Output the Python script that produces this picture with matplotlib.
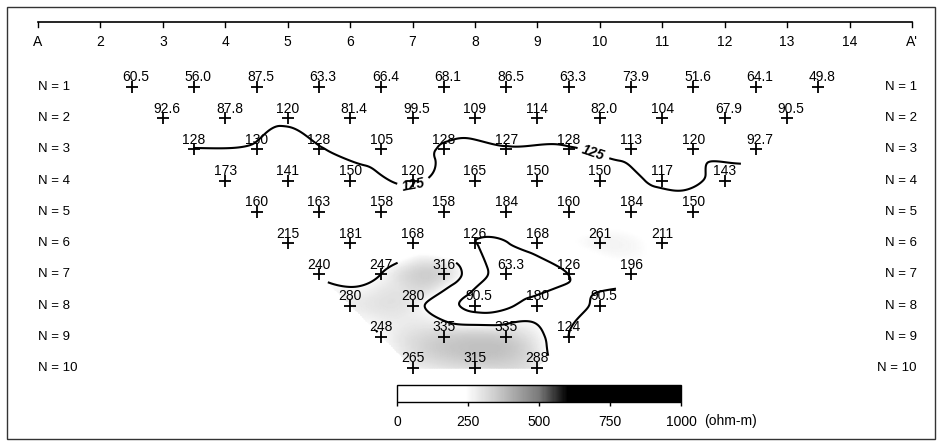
import numpy as np
import matplotlib
matplotlib.use('Agg')
import matplotlib.pyplot as plt
import matplotlib.tri as mtri
from matplotlib.colors import LinearSegmentedColormap
from matplotlib.patches import Rectangle

plt.rcParams['font.family'] = ['Liberation Sans', 'DejaVu Sans']

# apparent resistivity (ohm-m), one list per dipole separation N
n1 = [60.5, 56.0, 87.5, 63.3, 66.4, 68.1, 86.5, 63.3, 73.9, 51.6, 64.1, 49.8]
n2 = [92.6, 87.8, 120, 81.4, 99.5, 109, 114, 82.0, 104, 67.9, 90.5]
n3 = [128, 130, 128, 105, 128, 127, 128, 113, 120, 92.7]
n4 = [173, 141, 150, 120, 165, 150, 150, 117, 143]
n5 = [160, 163, 158, 158, 184, 160, 184, 150]
n6 = [215, 181, 168, 126, 168, 261, 211]
n7 = [240, 247, 316, 63.3, 126, 196]
n8 = [280, 280, 90.5, 180, 90.5]
n9 = [248, 335, 335, 124]
n10 = [265, 315, 288]
rows = [n1, n2, n3, n4, n5, n6, n7, n8, n9, n10]

station_labels = ['A', '2', '3', '4', '5', '6', '7', '8', '9', '10',
                  '11', '12', '13', '14', "A'"]
cbar_ticks = [0, 250, 500, 750, 1000]
low_level = 125
high_level = 245

# plot points of the dipole-dipole pseudosection
xs, ns, vals = [], [], []
for k, row in enumerate(rows):
    n = k + 1
    for i, v in enumerate(row):
        xs.append(2.0 + n / 2.0 + i)
        ns.append(n)
        vals.append(v)
xs = np.array(xs)
ns = np.array(ns, dtype=float)
vals = np.array(vals)

fig = plt.figure(figsize=(9.39, 4.45), dpi=100)
ax = fig.add_axes([0, 0, 1, 1])
ax.set_xlim(0.3913, 15.4325)
ax.set_ylim(12.466, -1.787)
ax.axis('off')

cmap = LinearSegmentedColormap.from_list(
    'resist', [(0, 'white'), (0.24, 'white'), (0.34, '#d0d0d0'),
               (0.5, '#7a7a7a'), (0.6, 'black'), (1, 'black')])

tri = mtri.Triangulation(xs, ns)
interp = mtri.CubicTriInterpolator(tri, vals, kind='min_E')
gx, gy = np.meshgrid(np.linspace(2.5, 13.5, 400), np.linspace(1, 10, 300))
gz = interp(gx, gy)

ax.pcolormesh(gx, gy, gz, cmap=cmap, vmin=0, vmax=1000, shading='gouraud')

cs = ax.contour(gx, gy, gz, levels=[low_level], colors='black', linewidths=1.5)
lbls = ax.clabel(cs, fmt='%d', inline=True, fontsize=10,
                 manual=[(7.0, 3.9), (9.9, 3.1)])
for t in lbls:
    t.set_fontweight('bold')
    t.set_fontstyle('italic')

# high-resistivity boundary, deeper levels only
deep = gy[:, 0] >= 6.6
ax.contour(gx[deep], gy[deep], gz[deep], levels=[high_level],
           colors='black', linewidths=1.5)

# station markers and values
ax.plot(xs, ns, '+', color='black', ms=9, mew=1.3)
for x, n, v in zip(xs, ns, vals):
    txt = f'{v:.0f}' if v >= 100 else f'{v:.1f}'
    dx = 3 if '.' in txt else 0
    ax.annotate(txt, (x, n), xytext=(dx, 4), textcoords='offset points',
                ha='center', va='baseline', fontsize=10)

# N labels on both sides
for k in range(len(rows)):
    ax.text(1.0, k + 1, f'N = {k + 1}', ha='left', va='center', fontsize=9.5)
    ax.text(15.08, k + 1, f'N = {k + 1}', ha='right', va='center', fontsize=9.5)

# station line along the top
ytop = -1.082
ax.plot([1, 15], [ytop, ytop], color='black', lw=1.2)
for s, lab in enumerate(station_labels, start=1):
    ax.plot([s, s], [ytop, ytop + 0.16], color='black', lw=1)
    ax.text(s, -0.44, lab, ha='center', va='center', fontsize=10)

fig.patches.append(Rectangle((7 / 939, 6 / 445), 928 / 939, 432 / 445,
                             transform=fig.transFigure, fill=False,
                             edgecolor='#333333', lw=1))

# colour scale
cax = fig.add_axes([397 / 939, 1 - 402 / 445, 284 / 939, 17 / 445])
sm = plt.cm.ScalarMappable(cmap=cmap, norm=plt.Normalize(0, 1000))
cb = fig.colorbar(sm, cax=cax, orientation='horizontal', ticks=cbar_ticks)
cb.outline.set_linewidth(1)
cb.ax.tick_params(labelsize=10, length=3, width=1, pad=6)
cb.ax.set_xticklabels([str(t) for t in cbar_ticks])
fig.text(704 / 939, 1 - 421 / 445, '(ohm-m)', ha='left', va='center', fontsize=10)

fig.savefig('out.png', dpi=100)
